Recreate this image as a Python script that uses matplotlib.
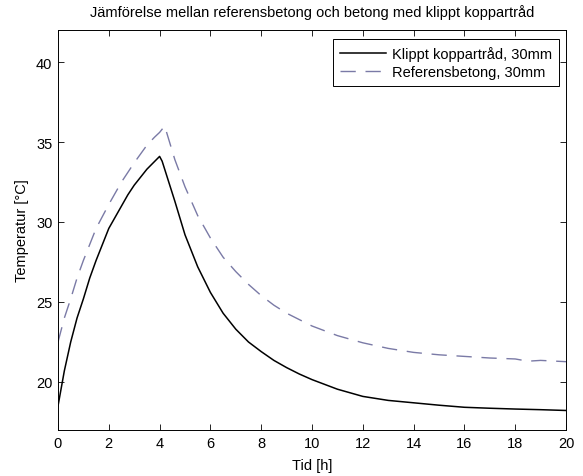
#!/usr/bin/env python

import numpy as np
import matplotlib
matplotlib.use('Agg')
import matplotlib.pyplot as plt

# Klippt koppartrad, 30mm
t_klippt = [0.0, 0.25, 0.5, 0.75, 1.0, 1.25, 1.5, 1.75, 2.0, 2.25, 2.5, 2.75, 3.0,
            3.25, 3.5, 3.75, 4.0, 4.1, 4.3, 4.6, 5.0, 5.5, 6.0, 6.5, 7.0, 7.5, 8.0,
            8.5, 9.0, 9.5, 10.0, 11.0, 12.0, 13.0, 14.0, 15.0, 16.0, 17.0, 18.0,
            19.0, 20.0]
T_klippt = [18.5, 20.7, 22.5, 24.0, 25.2, 26.5, 27.6, 28.6, 29.6, 30.3, 31.0, 31.7,
            32.3, 32.8, 33.3, 33.7, 34.1, 33.8, 32.8, 31.3, 29.2, 27.2, 25.6, 24.3,
            23.3, 22.5, 21.9, 21.35, 20.9, 20.5, 20.15, 19.55, 19.1, 18.85, 18.7,
            18.55, 18.42, 18.36, 18.31, 18.27, 18.22]

# Referensbetong, 30mm
t_ref = [0.0, 0.25, 0.5, 0.75, 1.0, 1.5, 2.0, 2.5, 3.0, 3.5, 3.8, 4.0, 4.2, 4.6,
         5.0, 5.5, 6.0, 6.5, 7.0, 7.5, 8.0, 8.5, 9.0, 9.5, 10.0, 11.0, 12.0, 13.0,
         14.0, 15.0, 16.0, 17.0, 18.0, 18.5, 19.0, 20.0]
T_ref = [22.5, 24.0, 25.2, 26.5, 27.6, 29.6, 31.1, 32.5, 33.7, 34.8, 35.3, 35.6,
         36.0, 33.9, 32.2, 30.4, 29.0, 27.8, 26.9, 26.1, 25.4, 24.8, 24.3, 23.9,
         23.5, 22.9, 22.45, 22.1, 21.85, 21.7, 21.6, 21.5, 21.44, 21.3, 21.35, 21.27]

plt.rcParams['font.family'] = ['Liberation Sans', 'DejaVu Sans']
plt.rcParams['font.size'] = 10.5

fig = plt.figure(figsize=[5.83, 4.77], dpi=100)
ax = fig.add_axes([58 / 583, 46 / 477, 508 / 583, 400 / 477])

ax.plot(t_klippt, T_klippt, '-', color='black', lw=1.1, label='Klippt koppartråd, 30mm')
ax.plot(t_ref, T_ref, '--', color='#7a7aa6', lw=1.0, dashes=(11, 7),
        label='Referensbetong, 30mm')

ax.set_xlim([0, 20])
ax.set_ylim([17, 42])
ax.set_xticks(np.arange(0, 21, 2))
ax.set_yticks([20, 25, 30, 35, 40])
ax.tick_params(direction='in', length=4, width=0.6, top=True, right=True, pad=4)
for s in ax.spines.values():
    s.set_linewidth(0.7)

ax.set_xlabel('Tid [h]', labelpad=6)
ax.set_ylabel('Temperatur [°C]', labelpad=5)
ax.set_title('Jämförelse mellan referensbetong och betong med klippt koppartråd',
             fontsize=10.5, pad=10)

leg = ax.legend(loc='upper right', bbox_to_anchor=(0.986, 0.977), borderaxespad=0,
                fancybox=False, edgecolor='black', framealpha=1, handlelength=3.15,
                handletextpad=0.45, borderpad=0.45, labelspacing=0.3)
leg.get_frame().set_linewidth(0.7)

plt.savefig('out.png', dpi=100)
